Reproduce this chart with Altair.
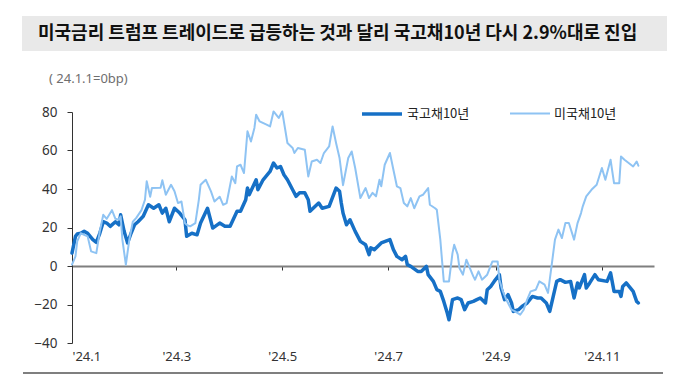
import altair as alt
import pandas as pd

TITLE = "미국금리 트럼프 트레이드로 급등하는 것과 달리 국고채10년 다시 2.9%대로 진입"
SUBTITLE = "( 24.1.1=0bp)"
SERIES = ["국고채10년", "미국채10년"]
COLORS = ["#1670c6", "#8ec3f3"]
WIDTHS = [3.5, 2.0]

kr_dates = ["01-01","01-03","01-04","01-06","01-08","01-10","01-13","01-15","01-17","01-19",
            "01-21","01-23","01-26","01-28","01-29","01-31","02-02","02-04","02-06","02-08",
            "02-11","02-14","02-17","02-20","02-22","02-24","02-26","02-29","03-03","03-06",
            "03-07","03-10","03-13","03-15","03-19","03-22","03-26","03-29","04-01","04-05",
            "04-07","04-10","04-11","04-12","04-16","04-17","04-20","04-24","04-26","04-28",
            "04-30","05-02","05-04","05-07","05-09","05-11","05-14","05-16","05-17","05-20",
            "05-22","05-24","05-28","06-01","06-03","06-04","06-05","06-07","06-09","06-12",
            "06-15","06-18","06-20","06-21","06-23","06-27","07-02","07-04","07-06","07-09",
            "07-11","07-12","07-14","07-18","07-20","07-23","07-24","07-27","07-29","07-31",
            "08-02","08-04","08-05","08-07","08-10","08-12","08-14","08-16","08-19","08-21",
            "08-23","08-26","08-27","08-29","08-31","09-03","09-04","09-06","09-08","09-10",
            "09-11","09-14","09-16","09-19","09-22","09-25","09-27","09-30","10-02","10-04",
            "10-06","10-08","10-11","10-14","10-16","10-18","10-19","10-22","10-23","10-25",
            "10-28","10-30","11-04","11-06","11-08","11-11","11-12","11-13","11-15","11-19",
            "11-21","11-22"]
kr_vals = [6.7,15.4,16.6,17,18,17,13.7,12.3,17,23,
           22.3,20.6,23,21.4,26.6,18,12,17,21.4,23,
           25.8,31.8,30,31.8,27.5,30,23,30,27.5,24,
           15.4,17,16.2,22.3,30,19.7,22.3,20.6,20.6,28.4,
           28.4,34.4,40.5,37,44.8,39.6,44.8,49.1,53.5,50.9,
           51.7,47.4,44.8,39.6,36.2,38,38,34.4,28.4,31,
           32.7,30,31,40.5,38.8,32.7,27.5,21.4,24,18,
           12.8,11,5.9,9.4,8.5,12,13.7,8.5,5,3.3,
           5,0.7,-0.2,-2.8,-2.8,-0.2,-4.5,-8,-12.3,-13.2,
           -18.4,-24.4,-27.9,-17.5,-16.6,-17.5,-22.7,-19.2,-18.4,-17.5,
           -16.6,-19.2,-12.3,-10.6,-8,-4.5,-11.4,-17.5,-14.9,-19.2,
           -23.6,-22.7,-21,-19.2,-15.8,-16.6,-16.6,-19.2,-23.6,-15.8,
           -8,-7.1,-8.5,-8,-16.6,-8.8,-11.4,-4.5,-11.4,-8.8,
           -4.5,-7.1,-8,-3.6,-13.2,-13.2,-15.8,-10.6,-8.8,-13.2,
           -18.4,-19.2]

us_dates = ["01-01","01-03","01-04","01-06","01-10","01-12","01-15","01-17","01-19","01-21",
            "01-24","01-26","01-28","01-29","01-30","02-01","02-03","02-05","02-07","02-10",
            "02-12","02-13","02-15","02-16","02-21","02-22","02-24","02-27","02-29","03-02",
            "03-04","03-06","03-07","03-09","03-12","03-14","03-15","03-18","03-21","03-23",
            "03-26","03-28","03-30","04-02","04-04","04-05","04-07","04-09","04-11","04-13",
            "04-15","04-16","04-18","04-22","04-24","04-26","04-29","05-01","05-04","05-07",
            "05-08","05-10","05-14","05-16","05-18","05-21","05-23","05-25","05-28","05-30",
            "06-01","06-03","06-05","06-08","06-10","06-12","06-15","06-18","06-20","06-22",
            "06-24","06-26","06-27","06-29","07-02","07-04","07-06","07-08","07-10","07-12",
            "07-14","07-16","07-19","07-21","07-24","07-25","07-28","07-29","07-31","08-02",
            "08-05","08-07","08-08","08-10","08-11","08-13","08-15","08-19","08-20","08-22",
            "08-24","08-27","08-30","09-02","09-03","09-05","09-07","09-10","09-12","09-15",
            "09-17","09-19","09-21","09-24","09-26","09-29","10-01","10-03","10-05","10-07",
            "10-09","10-11","10-13","10-16","10-18","10-20","10-21","10-23","10-26","10-29",
            "11-01","11-03","11-06","11-08","11-11","11-12","11-14","11-19","11-21","11-22"]
us_vals = [0.7,5,12.8,17,15.4,7.6,6.7,18,26.6,24.5,
           29,24.5,24,25.8,13.7,0.7,13.7,23,25,29,
           34.4,44,36,40.5,40.6,44.5,37,42.2,38.8,32.7,
           33.5,22.3,21.4,20.6,22.3,34.4,42.2,44.8,38.8,33.5,
           36,31.8,32.7,46.5,43,51.7,52.6,48.3,70,64.7,
           71.7,78.6,75.1,73.4,72.5,80.3,76.9,80.3,63.9,61.3,
           58.7,61.3,60.4,46.5,54.3,55.2,53.5,58.7,62.1,72.5,
           63.9,56.1,42,56.1,59.5,50.9,35.3,40.5,35.3,38,
           36.2,44.8,41.4,52.6,58.7,50,41.4,40.5,32.7,31,
           35.3,30,36.2,37,40.5,31.8,30,29.2,13.7,-8,
           -8,6.7,11,5.9,-1,-4.5,3.3,-5.4,-7.1,-2.8,
           -7.1,-4.5,2.4,2.4,-7.1,-13.2,-17.5,-22.7,-23.6,-25.3,
           -22.7,-17.5,-13.2,-12.3,-8,-9.7,-14,-0.2,13.7,18.9,
           14.5,22.3,22.3,13.7,22.3,27.5,31,36.2,39.6,42.2,
           50.9,44.8,55.2,43,43,56.9,55.2,51.7,54.3,52.1]

df = pd.concat([
    pd.DataFrame({"date": pd.to_datetime(["2024-" + d for d in kr_dates]), "value": kr_vals, "series": SERIES[0]}),
    pd.DataFrame({"date": pd.to_datetime(["2024-" + d for d in us_dates]), "value": us_vals, "series": SERIES[1]}),
])

FONT = "Noto Sans"
KFONT = "Noto Sans CJK KR"

tick_values = [alt.DateTime(year=2024, month=m, date=1) for m in [1, 3, 5, 7, 9, 11]]

x_enc = alt.X("date:T",
              scale=alt.Scale(domain=[alt.DateTime(year=2024, month=1, date=1),
                                      alt.DateTime(year=2024, month=12, date=1)]),
              axis=alt.Axis(values=tick_values, title=None, offset=-77, grid=False,
                            domainColor="#7f7f7f", domainWidth=2,
                            tickColor="#333333", tickSize=4, tickWidth=1,
                            labelPadding=80, labelFont=FONT, labelFontSize=13,
                            labelColor="#333333",
                            labelExpr='"\'" + timeFormat(datum.value, "%y") + "." + (month(datum.value) + 1)'))

y_enc = alt.Y("value:Q",
              scale=alt.Scale(domain=[-40, 80], nice=False, zero=False),
              axis=alt.Axis(values=[-40, -20, 0, 20, 40, 60, 80], title=None, grid=False,
                            domainColor="#333333", domainWidth=1,
                            tickColor="#333333", tickSize=5,
                            labelPadding=10, labelFont=FONT, labelFontSize=13.5,
                            labelColor="#333333"))

lines = alt.Chart(df).mark_line(strokeJoin="round", strokeCap="round").encode(
    x=x_enc,
    y=y_enc,
    color=alt.Color("series:N", scale=alt.Scale(domain=SERIES, range=COLORS),
                    legend=alt.Legend(title=None)),
    strokeWidth=alt.StrokeWidth("series:N", scale=alt.Scale(domain=SERIES, range=WIDTHS),
                                legend=alt.Legend(title=None)),
)

one = alt.Data(values=[{"k": 1}])

title_box = alt.Chart(one).mark_rect(color="#e9e9e9").encode(
    x=alt.value(-50), x2=alt.value(595), y=alt.value(-96), y2=alt.value(-61))

title_text = alt.Chart(one).mark_text(text=TITLE, font=KFONT, fontSize=18, fontWeight="bold",
                                      align="left", baseline="middle", color="#111111").encode(
    x=alt.value(-34), y=alt.value(-78))

sub_text = alt.Chart(one).mark_text(text=SUBTITLE, font=FONT, fontSize=13,
                                    align="left", baseline="middle", color="#6e6e6e").encode(
    x=alt.value(-23), y=alt.value(-33))

bottom_line = alt.Chart(one).mark_rule(color="#000000", strokeWidth=1.2).encode(
    x=alt.value(-49), x2=alt.value(591), y=alt.value(261))

chart = alt.layer(title_box, title_text, sub_text, bottom_line, lines).properties(
    width=582, height=231,
    autosize=alt.AutoSizeParams(type="none"),
    padding={"left": 64, "top": 104, "right": 29, "bottom": 34},
).configure_view(stroke=None).configure_legend(
    orient="none", legendX=288, legendY=-20, direction="horizontal",
    symbolType="stroke", symbolSize=1600, labelFont=KFONT, labelFontSize=13,
    labelColor="#222222", labelOffset=3, columnPadding=36, symbolOpacity=1,
)

chart.save("out.html", embed_options={"renderer": "svg", "actions": False})
